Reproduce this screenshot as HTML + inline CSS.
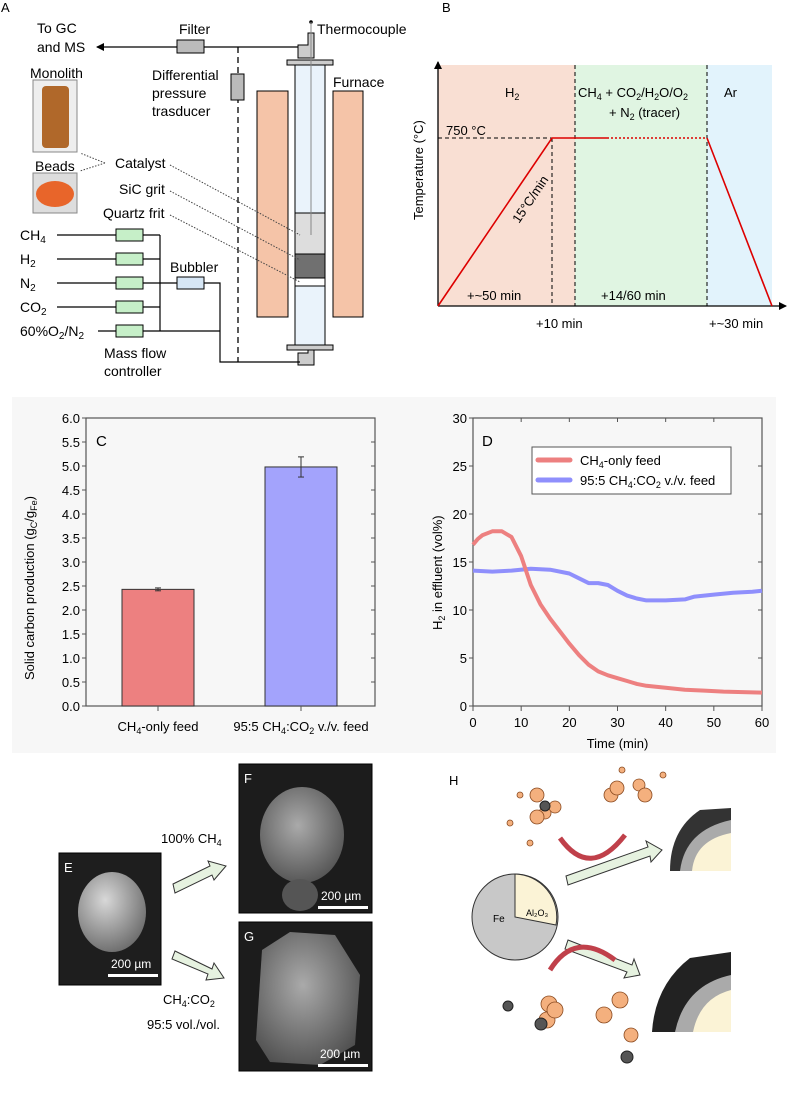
<!DOCTYPE html>
<html><head><meta charset="utf-8"><style>
body{margin:0;background:#fff;}
svg{display:block;font-family:"Liberation Sans",Arial,sans-serif;}
</style></head><body>
<svg width="788" height="1097" viewBox="0 0 788 1097">
<defs>
<marker id="ah" markerWidth="8" markerHeight="8" refX="7" refY="4" orient="auto" markerUnits="userSpaceOnUse"><path d="M0,0 L8,4 L0,8 z" fill="#000"/></marker>
<radialGradient id="sph" cx="0.4" cy="0.35" r="0.7"><stop offset="0" stop-color="#d8d8d8"/><stop offset="1" stop-color="#6a6a6a"/></radialGradient>
<radialGradient id="sph2" cx="0.45" cy="0.4" r="0.7"><stop offset="0" stop-color="#aaa"/><stop offset="1" stop-color="#4a4a4a"/></radialGradient>
</defs>

<!-- PANEL A -->
<g font-size="14">
<text x="1" y="12" font-size="13">A</text>
<text x="37" y="33">To GC</text>
<text x="37" y="52">and MS</text>
<line x1="310" y1="47" x2="97" y2="47" stroke="#000" stroke-width="1.3" marker-end="url(#ah)"/>
<rect x="177" y="40" width="27" height="13" fill="#bbb" stroke="#000"/>
<text x="179" y="34">Filter</text>
<line x1="238" y1="47" x2="238" y2="362" stroke="#000" stroke-width="1.3" stroke-dasharray="6,4"/>
<rect x="231" y="74" width="13" height="26" fill="#bbb" stroke="#000"/>
<text x="152" y="80">Differential</text><text x="152" y="98">pressure</text><text x="152" y="116">trasducer</text>
<text x="317" y="34">Thermocouple</text>
<circle cx="311" cy="22" r="1.8"/>
<path d="M298,45 H308 V33 H314 V58 H298 Z" fill="#ccc" stroke="#000"/>
<rect x="287" y="60" width="46" height="5" fill="#ccc" stroke="#000"/>
<rect x="295" y="65" width="30" height="280" fill="#eaf3fb" stroke="#000"/>
<rect x="295" y="213" width="30" height="41" fill="#ddd" stroke="#000"/>
<rect x="295" y="254" width="30" height="24" fill="#707070" stroke="#000"/>
<rect x="295" y="278" width="30" height="8" fill="#fff" stroke="#000"/>
<line x1="311" y1="22" x2="311" y2="235" stroke="#888"/>
<rect x="287" y="345" width="46" height="5" fill="#ccc" stroke="#000"/>
<path d="M298,353 H308 V350 H314 V365 H298 Z" fill="#ccc" stroke="#000"/>
<rect x="257" y="91" width="31" height="226" fill="#f5c4a8" stroke="#000"/>
<rect x="333" y="91" width="30" height="226" fill="#f5c4a8" stroke="#000"/>
<text x="333" y="87">Furnace</text>
<text x="30" y="78">Monolith</text>
<rect x="33" y="80" width="44" height="72" fill="#eee" stroke="#888"/>
<rect x="42" y="86" width="27" height="62" rx="4" fill="#b0682a"/>
<text x="35" y="171">Beads</text>
<rect x="33" y="173" width="44" height="40" fill="#ddd" stroke="#888"/>
<ellipse cx="55" cy="194" rx="19" ry="13" fill="#e8652a"/>
<text x="115" y="168">Catalyst</text><text x="119" y="194">SiC grit</text><text x="103" y="218">Quartz frit</text>
<g stroke="#444" stroke-dasharray="1.5,1.5" fill="none"><line x1="170" y1="165" x2="300" y2="235"/><line x1="170" y1="191" x2="300" y2="260"/><line x1="170" y1="215" x2="300" y2="282"/><path d="M105,163 L80,153 M105,163 L80,171"/></g>
<g stroke="#000" stroke-width="1.2" fill="none">
<line x1="57" y1="235" x2="160" y2="235"/><line x1="57" y1="259" x2="160" y2="259"/><line x1="57" y1="283" x2="215" y2="283"/><line x1="57" y1="307" x2="160" y2="307"/><line x1="98" y1="331" x2="220" y2="331"/>
<line x1="160" y1="235" x2="160" y2="331"/><path d="M220,331 V362 H300"/><path d="M215,283 H220 V331"/>
</g>
<g fill="#c6efc8" stroke="#000"><rect x="116" y="229" width="27" height="12"/><rect x="116" y="253" width="27" height="12"/><rect x="116" y="277" width="27" height="12"/><rect x="116" y="301" width="27" height="12"/><rect x="116" y="325" width="27" height="12"/></g>
<rect x="177" y="277" width="27" height="12" fill="#d6e6f5" stroke="#000"/>
<text x="170" y="272">Bubbler</text>
<text x="20" y="240">CH<tspan font-size="10" dy="3">4</tspan></text>
<text x="20" y="264">H<tspan font-size="10" dy="3">2</tspan></text>
<text x="20" y="288">N<tspan font-size="10" dy="3">2</tspan></text>
<text x="20" y="312">CO<tspan font-size="10" dy="3">2</tspan></text>
<text x="20" y="336">60%O<tspan font-size="10" dy="3">2</tspan><tspan dy="-3">/N</tspan><tspan font-size="10" dy="3">2</tspan></text>
<text x="104" y="358">Mass flow</text><text x="104" y="376">controller</text>
</g>

<!-- PANEL B -->
<g font-size="13">
<text x="442" y="12">B</text>
<rect x="438" y="65" width="137" height="241" fill="#f9dfd3"/>
<rect x="575" y="65" width="132" height="241" fill="#e0f5e2"/>
<rect x="707" y="65" width="65" height="241" fill="#e2f3fc"/>
<g stroke="#000" stroke-dasharray="4,3" stroke-width="1"><line x1="575" y1="65" x2="575" y2="306"/><line x1="707" y1="65" x2="707" y2="306"/><line x1="552" y1="138" x2="552" y2="306"/><line x1="438" y1="138" x2="552" y2="138"/></g>
<line x1="438" y1="306" x2="438" y2="62" stroke="#000" stroke-width="1.3" marker-end="url(#ah)"/>
<line x1="438" y1="306" x2="786" y2="306" stroke="#000" stroke-width="1.3" marker-end="url(#ah)"/>
<path d="M438,306 L552,138 L607,138" stroke="#d00" stroke-width="1.6" fill="none"/>
<line x1="607" y1="138" x2="707" y2="138" stroke="#d00" stroke-width="1.6" stroke-dasharray="2,2"/>
<path d="M707,138 L772,306" stroke="#d00" stroke-width="1.6" fill="none"/>
<text x="505" y="97">H<tspan font-size="9" dy="3">2</tspan></text>
<text x="578" y="97">CH<tspan font-size="9" dy="3">4</tspan><tspan dy="-3"> + CO</tspan><tspan font-size="9" dy="3">2</tspan><tspan dy="-3">/H</tspan><tspan font-size="9" dy="3">2</tspan><tspan dy="-3">O/O</tspan><tspan font-size="9" dy="3">2</tspan></text>
<text x="609" y="117">+ N<tspan font-size="9" dy="3">2</tspan><tspan dy="-3"> (tracer)</tspan></text>
<text x="724" y="97">Ar</text>
<text x="446" y="135">750 °C</text>
<text x="0" y="0" transform="translate(519,224) rotate(-56)">15°C/min</text>
<text x="467" y="300">+~50 min</text><text x="601" y="300">+14/60 min</text>
<text x="536" y="328">+10 min</text><text x="709" y="328">+~30 min</text>
<text transform="translate(423,220) rotate(-90)">Temperature (°C)</text>
</g>

<rect x="12" y="397" width="764" height="356" fill="#f7f7f7"/>
<g id="chartC" font-size="13"></g>
<g id="chartD" font-size="13"></g>

<!-- PANELS E F G -->
<g font-size="13">
<rect x="59" y="853" width="102" height="132" fill="#1e1e1e" stroke="#000"/>
<ellipse cx="112" cy="912" rx="34" ry="40" fill="url(#sph)"/>
<text x="64" y="872" fill="#fff">E</text>
<text x="111" y="968" fill="#fff" font-size="12">200 µm</text>
<rect x="108" y="974" width="50" height="3" fill="#fff"/>
<rect x="239" y="764" width="133" height="149" fill="#1c1c1c" stroke="#000"/>
<ellipse cx="302" cy="835" rx="42" ry="48" fill="url(#sph2)"/>
<ellipse cx="300" cy="895" rx="18" ry="16" fill="#555"/>
<text x="244" y="783" fill="#fff">F</text>
<text x="321" y="900" fill="#fff" font-size="12">200 µm</text>
<rect x="318" y="906" width="50" height="3" fill="#fff"/>
<rect x="239" y="922" width="133" height="149" fill="#1c1c1c" stroke="#000"/>
<path d="M256,1040 L262,950 L290,932 L335,935 L360,975 L355,1045 L320,1065 L270,1062 Z" fill="url(#sph2)"/>
<text x="244" y="941" fill="#fff">G</text>
<text x="320" y="1058" fill="#fff" font-size="12">200 µm</text>
<rect x="318" y="1064" width="50" height="3" fill="#fff"/>
<polygon points="173,884 210,866 208,861 226,866 214,880 212,875 175,893" fill="#e6f2e0" stroke="#333"/>
<polygon points="175,951 212,969 214,963 224,978 206,980 208,974 172,959" fill="#e6f2e0" stroke="#333"/>
<text x="161" y="843">100% CH<tspan font-size="9" dy="3">4</tspan></text>
<text x="163" y="1004">CH<tspan font-size="9" dy="3">4</tspan><tspan dy="-3">:CO</tspan><tspan font-size="9" dy="3">2</tspan></text>
<text x="147" y="1029">95:5 vol./vol.</text>
</g>

<!-- PANEL H -->
<g font-size="13">
<text x="449" y="785">H</text>
<circle cx="515" cy="917" r="43" fill="#c8c8c8" stroke="#333"/>
<path d="M515,917 L515,874 A43,43 0 0 1 556,925 Z" fill="#fbf3d6" stroke="#333"/>
<text x="493" y="922" font-size="10">Fe</text>
<text x="526" y="916" font-size="9">Al₂O₃</text>
<polygon points="566,876 648,847 646,841 662,850 651,862 650,856 568,885" fill="#e6f2e0" stroke="#333"/>
<polygon points="568,940 632,965 634,959 640,975 624,978 627,972 565,949" fill="#e6f2e0" stroke="#333"/>
<path d="M731,808 L700,810 Q670,830 670,871 L731,871 Z" fill="#333"/>
<path d="M731,820 Q685,830 680,871 L731,871 Z" fill="#aaa"/>
<path d="M731,833 Q695,840 692,871 L731,871 Z" fill="#fbf3d6"/>
<path d="M731,952 L690,958 Q655,985 652,1032 L731,1032 Z" fill="#222"/>
<path d="M731,975 Q685,985 675,1032 L731,1032 Z" fill="#aaa"/>
<path d="M731,990 Q700,998 693,1032 L731,1032 Z" fill="#fbf3d6"/>
<path d="M560,838 Q590,880 625,835" stroke="#c0404a" stroke-width="5" fill="none"/>
<path d="M550,970 Q575,930 615,960" stroke="#c0404a" stroke-width="5" fill="none"/>
<g fill="#f4b07e" stroke="#8a4a20" stroke-width="0.8">
<circle cx="537" cy="795" r="7"/><circle cx="545" cy="813" r="6"/><circle cx="537" cy="817" r="7"/><circle cx="555" cy="807" r="6"/>
<circle cx="611" cy="795" r="7"/><circle cx="617" cy="788" r="7"/><circle cx="639" cy="785" r="6"/><circle cx="645" cy="795" r="7"/>
<circle cx="549" cy="1004" r="8"/><circle cx="547" cy="1020" r="8"/><circle cx="555" cy="1010" r="8"/>
<circle cx="604" cy="1015" r="8"/><circle cx="620" cy="1000" r="8"/><circle cx="631" cy="1035" r="7"/>
<circle cx="520" cy="795" r="3"/><circle cx="530" cy="843" r="3"/><circle cx="510" cy="823" r="3"/><circle cx="622" cy="770" r="3"/><circle cx="663" cy="775" r="3"/>
</g>
<g fill="#555" stroke="#222"><circle cx="545" cy="806" r="5"/><circle cx="541" cy="1024" r="6"/><circle cx="627" cy="1057" r="6"/><circle cx="508" cy="1006" r="5"/></g>
</g>

<script>
// ---- Panel C data ----
const barCategories = ["CH4-only feed", "95:5 CH4:CO2 v./v. feed"];
const barValues = [2.43, 4.98];
const barErrors = [0.03, 0.21];
const barColors = ["#ed8080", "#a3a3fc"];
const cTicks = [0,0.5,1,1.5,2,2.5,3,3.5,4,4.5,5,5.5,6];

// ---- Panel D data ----
const timeRed = [0,1,2,4,6,8,10,12,14,16,18,20,22,24,26,28,30,32,34,36,38,40,44,48,52,56,60];
const h2Red = [16.8,17.4,17.8,18.2,18.2,17.6,15.6,12.6,10.6,9.1,7.8,6.5,5.3,4.3,3.6,3.2,2.9,2.6,2.3,2.1,2.0,1.9,1.7,1.6,1.5,1.45,1.4];
const timeBlue = [0,4,8,12,16,20,22,24,26,28,30,32,34,36,40,44,46,50,54,58,60];
const h2Blue = [14.1,14.0,14.1,14.3,14.2,13.8,13.3,12.8,12.8,12.6,12.0,11.5,11.2,11.0,11.0,11.1,11.4,11.6,11.8,11.9,12.0];
const dXTicks = [0,10,20,30,40,50,60];
const dYTicks = [0,5,10,15,20,25,30];

const NS = "http://www.w3.org/2000/svg";
function el(tag, attrs, parent, txt){const e=document.createElementNS(NS,tag);for(const k in attrs)e.setAttribute(k,attrs[k]);if(txt!==undefined)e.textContent=txt;parent.appendChild(e);return e;}
// rich text: parts = [[text, isSub], ...]
function rich(textEl, parts){
  let sub=false;
  parts.forEach(p=>{
    const t=document.createElementNS(NS,"tspan");
    if(p[1]&&!sub){t.setAttribute("dy","3");t.setAttribute("font-size","9");sub=true;}
    else if(p[1]){t.setAttribute("font-size","9");}
    else if(sub){t.setAttribute("dy","-3");sub=false;}
    t.textContent=p[0];textEl.appendChild(t);
  });
}
const partsCH4only=[["CH"],["4",1],["-only feed"]];
const partsMix=[["95:5 CH"],["4",1],[":CO"],["2",1],[" v./v. feed"]];

// Panel C
const gC = document.getElementById("chartC");
const cx0=86, cx1=375, cy0=706, cy1=418;
const cY = v => cy0 - (v/6)*(cy0-cy1);
const cX = i => 158 + i*143;
el("rect",{x:cx0,y:cy1,width:cx1-cx0,height:cy0-cy1,fill:"none",stroke:"#555","stroke-width":1.2},gC);
cTicks.forEach(t=>{
  el("line",{x1:cx0-4,y1:cY(t),x2:cx0,y2:cY(t),stroke:"#555"},gC);
  el("line",{x1:cx1,y1:cY(t),x2:cx1-4,y2:cY(t),stroke:"#555"},gC);
  const lb=el("text",{x:cx0-6,y:cY(t)+5,"text-anchor":"end"},gC,t.toFixed(1));
  
  
});
barValues.forEach((v,i)=>{
  const r=el("rect",{x:cX(i)-36,y:cY(v),width:72,height:cy0-cY(v),fill:barColors[i],stroke:"#333"},gC);
  
  
  const e=barErrors[i];
  el("line",{x1:cX(i),y1:cY(v+e),x2:cX(i),y2:cY(v-e),stroke:"#333"},gC);
  el("line",{x1:cX(i)-3,y1:cY(v+e),x2:cX(i)+3,y2:cY(v+e),stroke:"#333"},gC);
  el("line",{x1:cX(i)-3,y1:cY(v-e),x2:cX(i)+3,y2:cY(v-e),stroke:"#333"},gC);
  el("line",{x1:cX(i),y1:cy0,x2:cX(i),y2:cy0+5,stroke:"#555"},gC);
});
const xl1=el("text",{x:cX(0),y:731,"text-anchor":"middle"},gC);
rich(xl1,partsCH4only);


const xl2=el("text",{x:cX(1),y:731,"text-anchor":"middle"},gC);
rich(xl2,partsMix);


const cl=el("text",{x:96,y:446,"font-size":15},gC,"C");


const cyt=el("text",{transform:"translate(34,680) rotate(-90)"},gC);
rich(cyt,[["Solid carbon production (g"],["C",1],["/g"],["Fe",1],[")"]]);



// Panel D
const gD = document.getElementById("chartD");
const dx0=473, dx1=762, dy0=706, dy1=418;
const dX = t => dx0 + (t/60)*(dx1-dx0);
const dY = v => dy0 - (v/30)*(dy0-dy1);
el("rect",{x:dx0,y:dy1,width:dx1-dx0,height:dy0-dy1,fill:"none",stroke:"#555","stroke-width":1.2},gD);
dYTicks.forEach(t=>{
  el("line",{x1:dx0-4,y1:dY(t),x2:dx0,y2:dY(t),stroke:"#555"},gD);
  el("line",{x1:dx1,y1:dY(t),x2:dx1-4,y2:dY(t),stroke:"#555"},gD);
  const lb=el("text",{x:dx0-6,y:dY(t)+5,"text-anchor":"end"},gD,String(t));
  
  
});
dXTicks.forEach(t=>{
  el("line",{x1:dX(t),y1:dy0,x2:dX(t),y2:dy0+5,stroke:"#555"},gD);
  el("line",{x1:dX(t),y1:dy1,x2:dX(t),y2:dy1+4,stroke:"#555"},gD);
  const lb=el("text",{x:dX(t),y:727,"text-anchor":"middle"},gD,String(t));
  
  
});
function path(xs,ys){return xs.map((t,i)=>(i?"L":"M")+dX(t).toFixed(1)+","+dY(ys[i]).toFixed(1)).join(" ");}
const pB=el("path",{d:path(timeBlue,h2Blue),stroke:"#8f8ffc","stroke-width":4,fill:"none","stroke-linejoin":"round"},gD);


const pR=el("path",{d:path(timeRed,h2Red),stroke:"#ed8080","stroke-width":4,fill:"none","stroke-linejoin":"round"},gD);


const lg=el("rect",{x:532,y:447,width:199,height:47,fill:"#fff",stroke:"#555"},gD);


el("line",{x1:538,y1:460,x2:570,y2:460,stroke:"#ed8080","stroke-width":5,"stroke-linecap":"round"},gD);
el("line",{x1:538,y1:480,x2:570,y2:480,stroke:"#8f8ffc","stroke-width":5,"stroke-linecap":"round"},gD);
const le1=el("text",{x:580,y:465},gD);
rich(le1,partsCH4only);


const le2=el("text",{x:580,y:485},gD);
rich(le2,partsMix);


const dl=el("text",{x:482,y:446,"font-size":15},gD,"D");


const dxt=el("text",{x:dX(30),y:748,"text-anchor":"middle"},gD,"Time (min)");


const dyt=el("text",{transform:"translate(442,630) rotate(-90)"},gD);
rich(dyt,[["H"],["2",1],[" in effluent (vol%)"]]);


</script>
</svg>
</body></html>
